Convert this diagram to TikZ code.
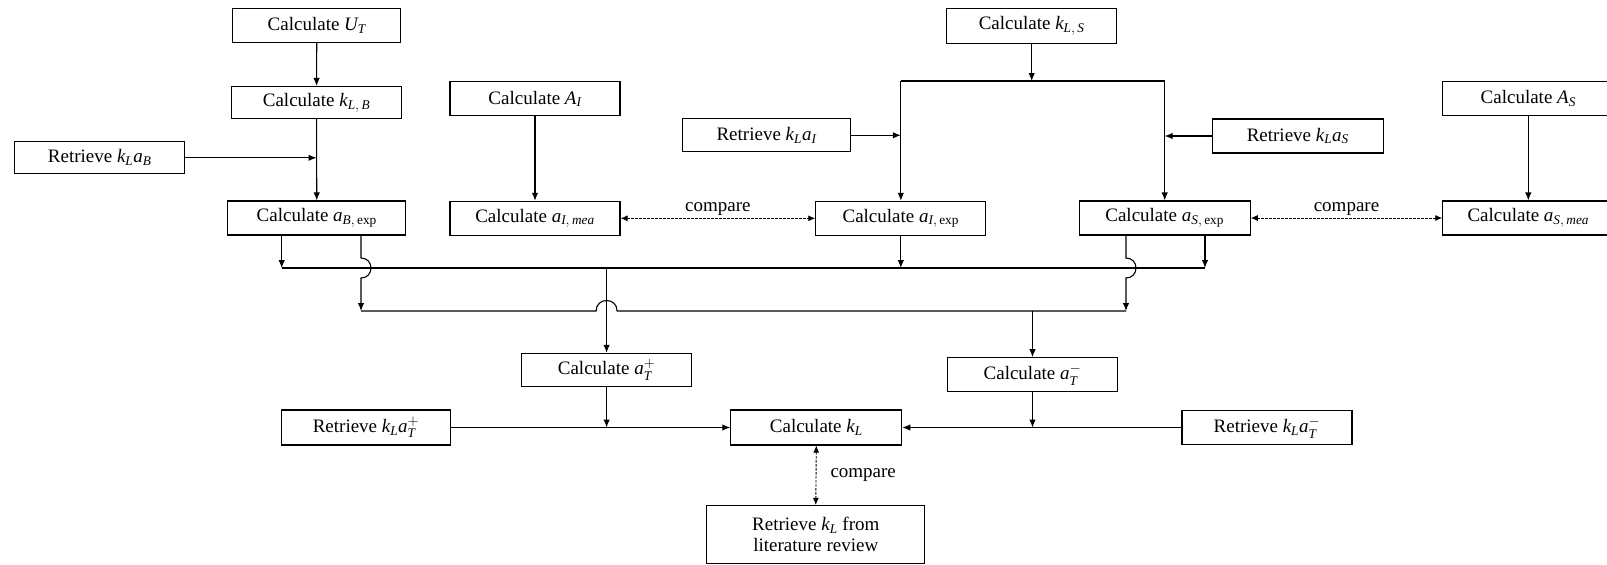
\documentclass[tikz,border=0pt]{standalone}
\usepackage{amsmath}
\usepackage{fontspec}
\setmainfont{Liberation Serif}
\usetikzlibrary{arrows.meta,calc}
\newcommand{\itx}[1]{\textit{#1}}
\begin{document}
\begin{tikzpicture}[x=1pt,y=-1pt,
  box/.style={draw, line width=1.1pt, minimum width=170pt, minimum height=34pt, inner sep=0pt, align=center, font=\fontsize{19}{21.5}\selectfont},
  conn/.style={line width=1.1pt},
  arr/.style={conn, -{Latex[length=8pt,width=6.5pt]}},
  darr/.style={line width=0.9pt, dash pattern=on 2.5pt off 1.5pt, {Latex[length=7pt,width=6pt]}-{Latex[length=7pt,width=6pt]}},
  lab/.style={font=\fontsize{19}{21.5}\selectfont, inner sep=2pt}]
\clip (0,0) rectangle (1607,565);
\fill[white] (0,0) rectangle (1607,565);

% boxes
\node[box, minimum width=168pt] (UT) at (316.8,25.5) {Calculate $\itx{U}_{\itx{T}}$};
\node[box, minimum height=32pt] (kLB) at (316.5,102.5) {Calculate $\itx{k}_{\itx{L},\,\itx{B}}$};
\node[box, minimum height=32pt] (RetB) at (99.7,157.8) {Retrieve $\itx{k}_{\itx{L}}\itx{a}_{\itx{B}}$};
\node[box, minimum width=178pt] (aBexp) at (316.8,218) {Calculate $\itx{a}_{\itx{B},\,\textrm{exp}}$};
\node[box] (AI) at (535,98.8) {Calculate $\itx{A}_{\itx{I}}$};
\node[box] (aImea) at (535,218.3) {Calculate $\itx{a}_{\itx{I},\,\itx{mea}}$};
\node[box, minimum width=168pt, minimum height=33pt] (RetI) at (766.5,135.3) {Retrieve $\itx{k}_{\itx{L}}\itx{a}_{\itx{I}}$};
\node[box, minimum height=35pt] (kLS) at (1031.7,25.8) {Calculate $\itx{k}_{\itx{L},\,\itx{S}}$};
\node[box] (aIexp) at (900.8,218.3) {Calculate $\itx{a}_{\itx{I},\,\textrm{exp}}$};
\node[box, minimum width=171pt] (RetS) at (1297.8,136) {Retrieve $\itx{k}_{\itx{L}}\itx{a}_{\itx{S}}$};
\node[box, minimum width=171pt] (aSexp) at (1164.7,218) {Calculate $\itx{a}_{\itx{S},\,\textrm{exp}}$};
\node[box, minimum width=171pt] (AS) at (1528.3,98.8) {Calculate $\itx{A}_{\itx{S}}$};
\node[box, minimum width=171pt] (aSmea) at (1528.3,218) {Calculate $\itx{a}_{\itx{S},\,\itx{mea}}$};
\node[box, minimum height=33.4pt] (aTp) at (606.6,370) {Calculate $\itx{a}_{\itx{T}}^{+}$};
\node[box] (aTm) at (1032.5,374.7) {Calculate $\itx{a}_{\itx{T}}^{-}$};
\node[box, minimum width=169pt, minimum height=35pt] (RetTp) at (366,427.5) {Retrieve $\itx{k}_{\itx{L}}\itx{a}_{\itx{T}}^{+}$};
\node[box, minimum width=171pt, minimum height=35pt] (kL) at (816.3,427.5) {Calculate $\itx{k}_{\itx{L}}$};
\node[box, minimum height=34pt] (RetTm) at (1267,427.5) {Retrieve $\itx{k}_{\itx{L}}\itx{a}_{\itx{T}}^{-}$};
\node[box, minimum width=218pt, minimum height=58pt] (Lit) at (815.8,534.5) {Retrieve $\itx{k}_{\itx{L}}$ from\\literature review};

% bus coordinates
\coordinate (b1L) at (281.7,268);
\coordinate (b1R) at (1205,268);
\coordinate (b2L) at (361,311);
\coordinate (b2R) at (1126,311);
\coordinate (sL) at (900.8,81);
\coordinate (sR) at (1164.7,81);

% left column
\draw[arr] (UT) -- (kLB);
\draw[arr] (kLB) -- (aBexp);
\draw[arr] (RetB.east) -- (RetB.east -| kLB.south);
% A_I
\draw[arr] (AI) -- (aImea);
% k_L,S split
\draw[arr] (kLS.south) -- (kLS.south |- sL);
\draw[conn] (sL) -- (sR);
\draw[arr] (sL) -- (aIexp.north);
\draw[arr] (sR) -- (aSexp.north);
\draw[arr] (RetI.east) -- (RetI.east -| sL);
\draw[arr] (RetS.west) -- (RetS.west -| sR);
% A_S
\draw[arr] (AS) -- (aSmea);
% compare arrows
\draw[darr] (aImea.east) -- node[lab, above] {compare} (aIexp.west);
\draw[darr] (aSexp.east) -- node[lab, above] {compare} (aSmea.west);
\draw[darr] (kL.south) -- node[lab, right, xshift=12pt] {compare} (Lit.north);

% outputs to bus 1
\draw[arr] (aBexp.south -| b1L) -- (b1L);
\draw[arr] (aIexp.south) -- (aIexp.south |- b1L);
\draw[arr] (aSexp.south -| b1R) -- (b1R);
% outputs to bus 2 with hops over bus 1
\draw[arr] (aBexp.south -| b2L) -- ($(b2L |- b1L)+(0,-10)$) .. controls +(13.3,0) and +(13.3,0) .. ($(b2L |- b1L)+(0,10)$) -- (b2L);
\draw[arr] (aSexp.south -| b2R) -- ($(b2R |- b1L)+(0,-10)$) .. controls +(13.3,0) and +(13.3,0) .. ($(b2R |- b1L)+(0,10)$) -- (b2R);
% bus 1
\draw[conn] (b1L) -- (b1R);
% bus 2 with hop over drop line
\draw[conn] (b2L) -- ($(aTp.north |- b2L)+(-10.5,0)$) .. controls +(0,-14) and +(0,-14) .. ($(aTp.north |- b2L)+(10.5,0)$) -- (b2R);
% drops
\draw[arr] (aTp.north |- b1L) -- (aTp.north);
\draw[arr] (aTm.north |- b2L) -- (aTm.north);

% bottom row
\draw[arr] (RetTp.east) -- (kL.west);
\draw[arr] (aTp.south) -- (aTp.south |- kL.west);
\draw[arr] (RetTm.west) -- (kL.east);
\draw[arr] (aTm.south) -- (aTm.south |- kL.east);
\end{tikzpicture}
\end{document}
